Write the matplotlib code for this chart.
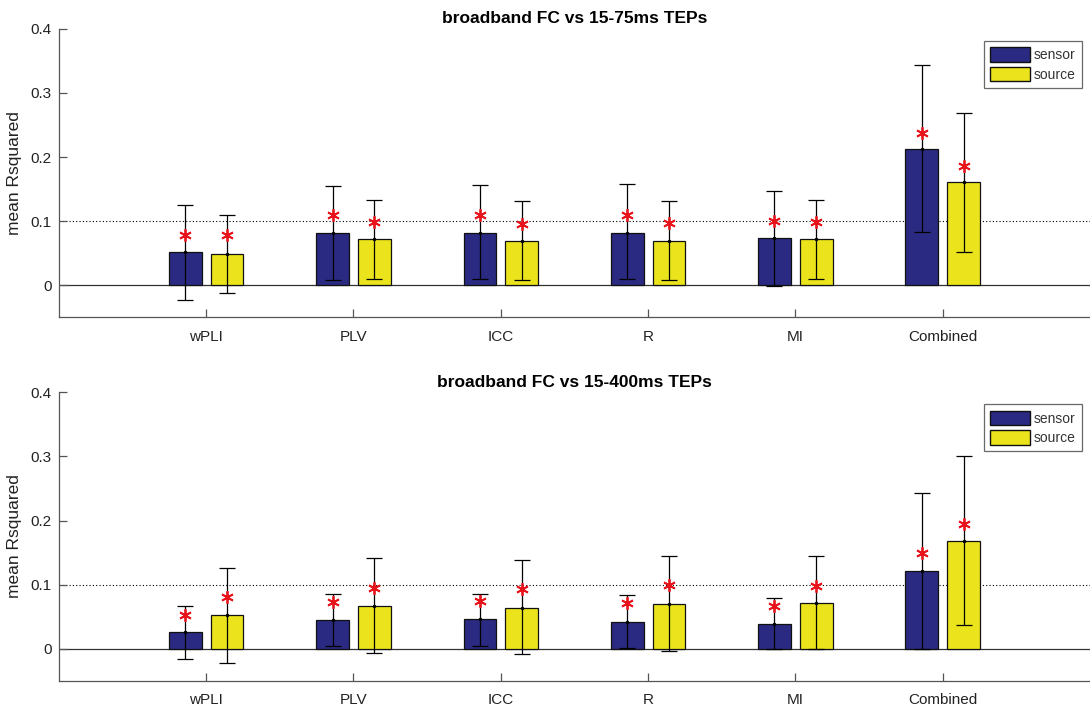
import numpy as np
import matplotlib
matplotlib.use("Agg")
import matplotlib.pyplot as plt
from matplotlib.patches import Patch

plt.rcParams["font.family"] = ["Liberation Sans", "DejaVu Sans"]

# ── Data ────────────────────────────────────────────────────────────────
metrics = ["wPLI", "PLV", "ICC", "R", "MI", "Combined"]
titles = ["broadband FC vs 15-75ms TEPs", "broadband FC vs 15-400ms TEPs"]

# 15-75ms panel
early_sensor = [0.051, 0.081, 0.082, 0.082, 0.073, 0.213]
early_sensor_lo = [-0.023, 0.008, 0.009, 0.009, -0.001, 0.083]
early_sensor_hi = [0.125, 0.155, 0.156, 0.158, 0.147, 0.343]
early_sensor_star = [0.078, 0.109, 0.109, 0.110, 0.100, 0.238]
early_source = [0.048, 0.072, 0.069, 0.069, 0.072, 0.161]
early_source_lo = [-0.012, 0.009, 0.008, 0.008, 0.009, 0.052]
early_source_hi = [0.110, 0.133, 0.131, 0.131, 0.133, 0.268]
early_source_star = [0.078, 0.099, 0.096, 0.097, 0.099, 0.186]

# 15-400ms panel
late_sensor = [0.026, 0.044, 0.046, 0.042, 0.039, 0.121]
late_sensor_lo = [-0.016, 0.004, 0.004, 0.001, -0.001, 0.000]
late_sensor_hi = [0.066, 0.086, 0.086, 0.084, 0.079, 0.243]
late_sensor_star = [0.053, 0.073, 0.075, 0.071, 0.066, 0.149]
late_source = [0.052, 0.067, 0.064, 0.070, 0.071, 0.168]
late_source_lo = [-0.022, -0.006, -0.009, -0.004, -0.001, 0.037]
late_source_hi = [0.126, 0.141, 0.138, 0.144, 0.145, 0.300]
late_source_star = [0.080, 0.094, 0.093, 0.099, 0.098, 0.195]

threshold = 0.1

# ── Style ───────────────────────────────────────────────────────────────
SENSOR_COLOR = "#2b2a82"
SOURCE_COLOR = "#ebe41c"
SPINE_COLOR = "#555555"
ASTERISK = (6, 2, 0)

panels = [
    (early_sensor, early_sensor_lo, early_sensor_hi, early_sensor_star,
     early_source, early_source_lo, early_source_hi, early_source_star),
    (late_sensor, late_sensor_lo, late_sensor_hi, late_sensor_star,
     late_source, late_source_lo, late_source_hi, late_source_star),
]

fig = plt.figure(figsize=(10.9, 7.07), dpi=100, facecolor="white")
axes_rects = [[0.054, 0.5516, 0.946, 0.4074], [0.054, 0.0372, 0.946, 0.4078]]

x = np.arange(1, len(metrics) + 1)
offset = 0.142
width = 0.222

for rect, title, data in zip(axes_rects, titles, panels):
    ax = fig.add_axes(rect)
    (s_val, s_lo, s_hi, s_star, o_val, o_lo, o_hi, o_star) = data

    ax.axhline(0, color="#333333", linewidth=0.9, zorder=1)
    ax.axhline(threshold, color="black", linewidth=0.8, linestyle=(0, (1, 2)), zorder=1)

    for xpos, vals, lo, hi, stars, col in [
        (x - offset, s_val, s_lo, s_hi, s_star, SENSOR_COLOR),
        (x + offset, o_val, o_lo, o_hi, o_star, SOURCE_COLOR),
    ]:
        vals = np.array(vals)
        ax.bar(xpos, vals, width=width, color=col, edgecolor="#111111",
               linewidth=0.9, zorder=2)
        yerr = np.vstack([vals - np.array(lo), np.array(hi) - vals])
        ax.errorbar(xpos, vals, yerr=yerr, fmt=".", color="black",
                    markersize=3, elinewidth=0.9, capsize=5.5, capthick=0.9,
                    zorder=3)
        ax.plot(xpos, stars, linestyle="none", marker=ASTERISK, markersize=9,
                markeredgewidth=1.3, color="#e8141c", zorder=4)

    ax.set_xlim(0, 7)
    ax.set_ylim(-0.05, 0.4)
    ax.set_yticks([0, 0.1, 0.2, 0.3, 0.4])
    ax.set_yticklabels(["0", "0.1", "0.2", "0.3", "0.4"])
    ax.set_xticks(x)
    ax.set_xticklabels(metrics)
    ax.tick_params(direction="in", length=6, width=0.9, colors=SPINE_COLOR,
                   labelcolor="#222222", labelsize=11)
    ax.tick_params(axis="x", pad=9)
    ax.tick_params(axis="y", pad=5)
    for side in ["top", "right"]:
        ax.spines[side].set_visible(False)
    for side in ["left", "bottom"]:
        ax.spines[side].set_color(SPINE_COLOR)
        ax.spines[side].set_linewidth(0.9)

    ax.set_ylabel("mean Rsquared", fontsize=12.5, color="#222222", labelpad=6)
    ax.set_title(title, fontsize=12.5, fontweight="bold", pad=4)

    handles = [Patch(facecolor=SENSOR_COLOR, edgecolor="#111111", label="sensor"),
               Patch(facecolor=SOURCE_COLOR, edgecolor="#111111", label="source")]
    leg = ax.legend(handles=handles, loc="upper right", bbox_to_anchor=(0.992, 0.958),
                    fontsize=10, frameon=True, fancybox=False, handlelength=2.9,
                    handleheight=1.25, handletextpad=0.25, borderpad=0.45,
                    labelspacing=0.3, borderaxespad=0)
    leg.get_frame().set_edgecolor("#444444")
    leg.get_frame().set_linewidth(0.9)
    for t in leg.get_texts():
        t.set_color("#333333")

fig.savefig("out.png", dpi=100, facecolor="white")
